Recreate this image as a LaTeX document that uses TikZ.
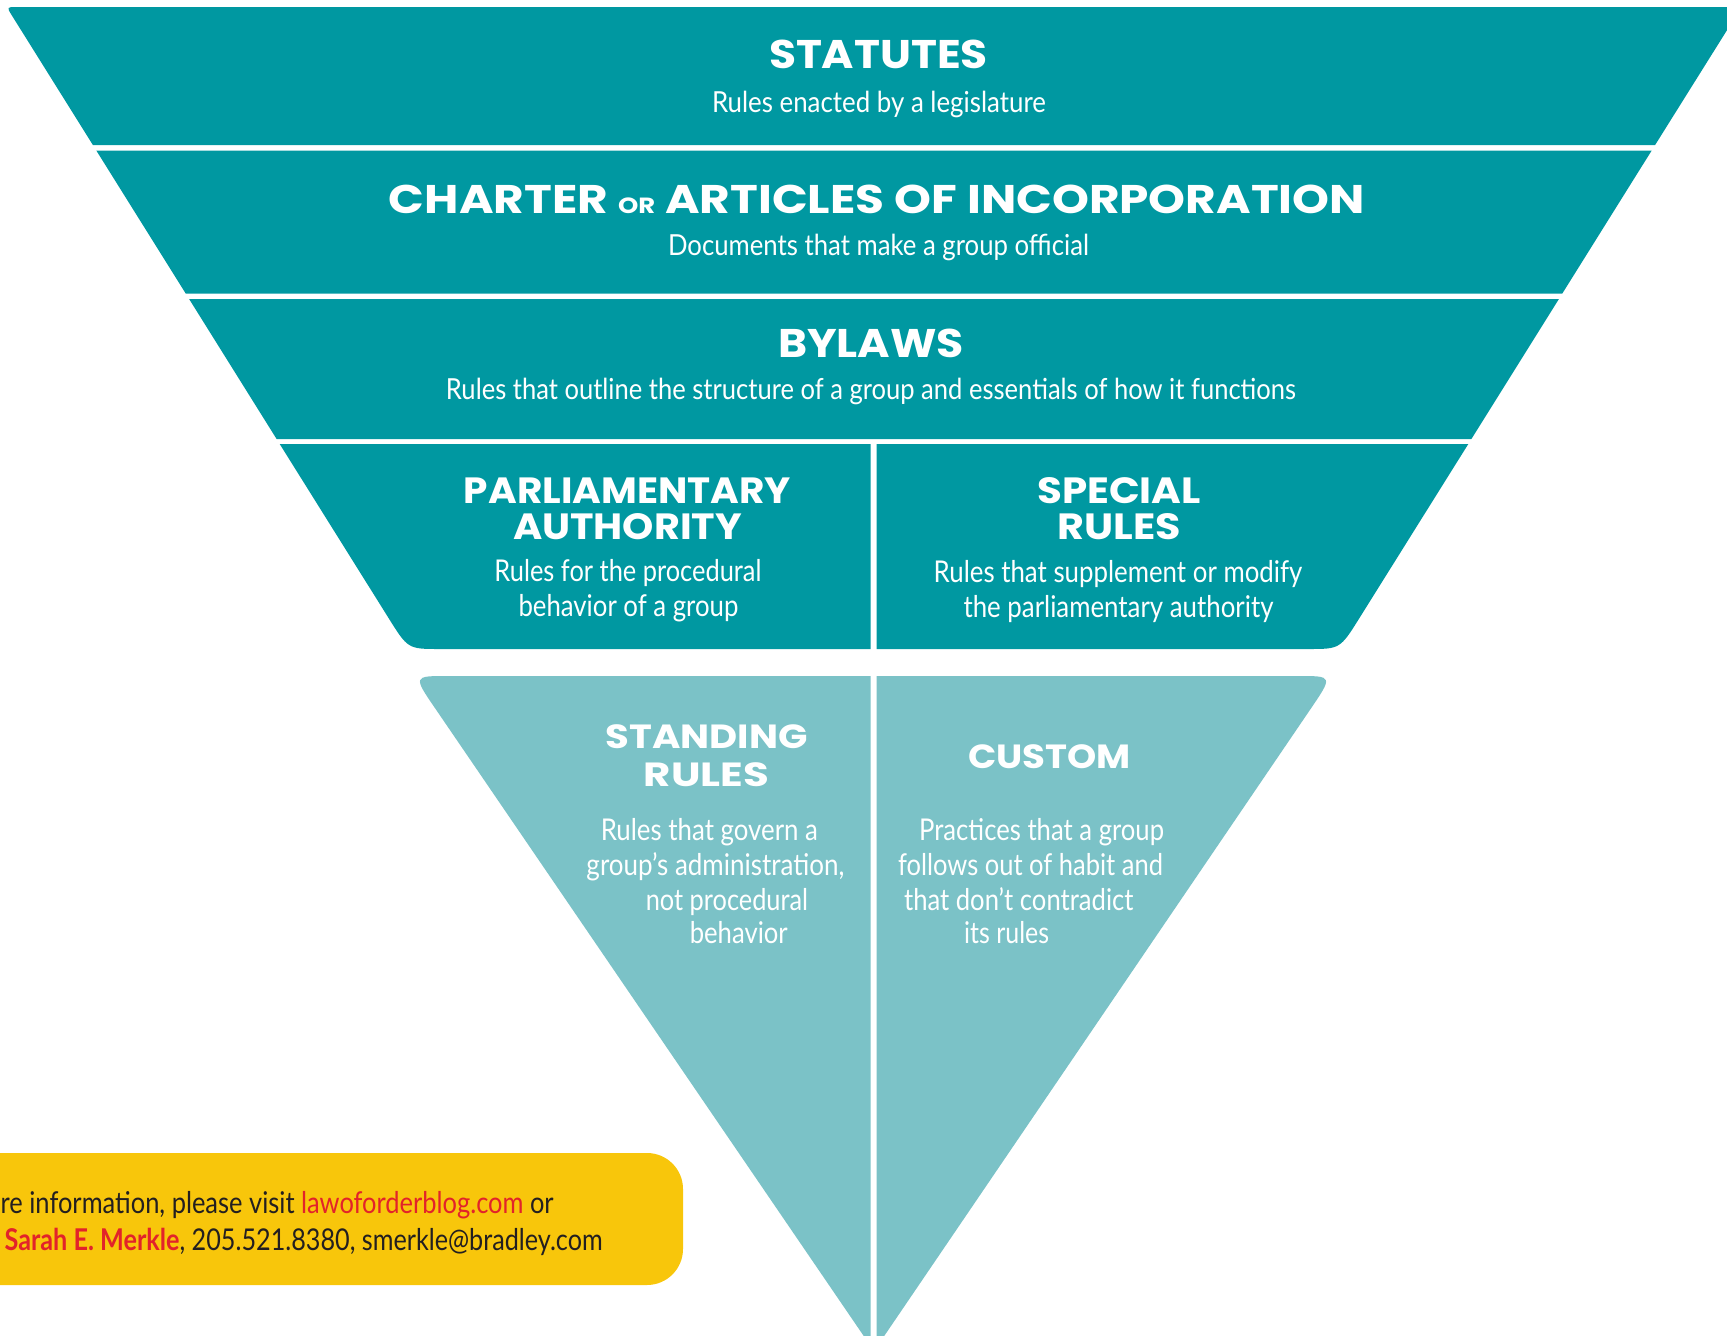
\documentclass[tikz,border=0pt]{standalone}
\usepackage{fontspec}
\usepackage{graphicx}
\newfontfamily\headfont{Poppins}
\newfontfamily\bodyfont{Lato}
\definecolor{tealdark}{HTML}{0098A1}
\definecolor{teallight}{HTML}{7BC2C7}
\definecolor{infoyellow}{HTML}{F8C60B}
\definecolor{linkred}{HTML}{E2232A}
\definecolor{txtdark}{HTML}{231F20}
\newcommand{\fitw}[2]{\resizebox{#1pt}{\height}{#2}}
\begin{document}
\begin{tikzpicture}[x=1pt,y=-1pt,
  headA/.style={anchor=base,inner sep=0pt,text=white,font=\headfont\bfseries\fontsize{40}{40}\selectfont},
  headB/.style={anchor=base,inner sep=0pt,text=white,font=\headfont\bfseries\fontsize{36.5}{36.5}\selectfont},
  headC/.style={anchor=base,inner sep=0pt,text=white,font=\headfont\bfseries\fontsize{33.5}{33.5}\selectfont},
  subA/.style={anchor=base,inner sep=0pt,text=white,font=\bodyfont\fontsize{29}{29}\selectfont},
  subB/.style={anchor=base,inner sep=0pt,text=white,font=\bodyfont\fontsize{30}{30}\selectfont},
  info/.style={anchor=base west,inner sep=0pt,text=txtdark,font=\bodyfont\fontsize{30}{30}\selectfont}]
\useasboundingbox (0,0) rectangle (1727,1336);
\clip (0,0) rectangle (1727,1336);

% band 1
\fill[tealdark] (1760,7) -- (16.6,7) .. controls (6.6,7) .. (11.9,15.5) -- (92.9,145) -- (1655.1,145) -- (1744,3) -- cycle;
% band 2
\fill[tealdark] (96.3,150.5) -- (185.7,293.5) -- (1562.3,293.5) -- (1651.7,150.5) -- cycle;
% band 3
\fill[tealdark] (189.1,299) -- (276.6,439) -- (1471.4,439) -- (1558.9,299) -- cycle;
% band 4 halves
\fill[tealdark] (279.7,444) -- (388.3,617.6) .. controls (407.9,649) .. (439.9,649) -- (870.7,649) -- (870.7,444) -- cycle;
\fill[tealdark] (876.7,444) -- (876.7,649) -- (1308.1,649) .. controls (1340.1,649) .. (1359.7,617.6) -- (1468.3,444) -- cycle;
% lower triangle halves
\fill[teallight] (435.6,709) .. controls (413,676) .. (448,676) -- (870.7,676) -- (870.7,1346.2) -- cycle;
\fill[teallight] (876.7,676) -- (1298,676) .. controls (1333,676) .. (1310.5,709.1) -- (876.7,1347) -- cycle;
% yellow box
\fill[infoyellow,rounded corners=36pt] (-60,1153) rectangle (683,1285);

% texts
\node[headA] (statutes) at (878.5,68.3) {\fitw{219}{STATUTES}};
\node[subA] (statutesd) at (879,112.7) {\fitw{334}{Rules enacted by a legislature}};

\node[headA] (charter) at (877,213.3) {\fitw{976}{CHARTER {\fontsize{22}{22}\selectfont OR} ARTICLES OF INCORPORATION}};
\node[subA] (charterd) at (878.5,255.7) {\fitw{421}{Documents that make a group official}};

\node[headA] (bylaws) at (871,357) {\fitw{186}{BYLAWS}};
\node[subA] (bylawsd) at (871,399) {\fitw{850}{Rules that outline the structure of a group and essentials of how it functions}};

\node[headB] (parl1) at (627.5,503) {\fitw{327}{PARLIAMENTARY}};
\node[headB] (parl2) at (627.5,539) {\fitw{229}{AUTHORITY}};
\node[subB] (parld1) at (628,581.7) {\fitw{267}{Rules for the procedural}};
\node[subB] (parld2) at (628.5,616.7) {\fitw{220}{behavior of a group}};

\node[headB] (spec1) at (1119,503) {\fitw{163.6}{SPECIAL}};
\node[headB] (spec2) at (1119,539) {\fitw{123.5}{RULES}};
\node[subB] (specd1) at (1118,582) {\fitw{368.6}{Rules that supplement or modify}};
\node[subB] (specd2) at (1118.5,617) {\fitw{310}{the parliamentary authority}};

\node[headC] (stand1) at (706.7,748.3) {\fitw{202}{STANDING}};
\node[headC] (stand2) at (706.4,786.7) {\fitw{125.3}{RULES}};
\node[subB] (standd1) at (709.4,840) {\fitw{217.2}{Rules that govern a}};
\node[subB] (standd2) at (715.5,875) {\fitw{258}{group’s administration,}};
\node[subB] (standd3) at (727,910) {\fitw{162.3}{not procedural}};
\node[subB] (standd4) at (738.8,943) {\fitw{98}{behavior}};

\node[headC] (custom) at (1049.3,768.3) {\fitw{162.6}{CUSTOM}};
\node[subB] (customd1) at (1041.6,840) {\fitw{245}{Practices that a group}};
\node[subB] (customd2) at (1030.5,875) {\fitw{265}{follows out of habit and}};
\node[subB] (customd3) at (1018.8,910) {\fitw{229.5}{that don’t contradict}};
\node[subB] (customd4) at (1006.6,943) {\fitw{85}{its rules}};

\node[info] (info1) at (0.5,1213) {\fitw{553}{re information, please visit \textcolor{linkred}{lawoforderblog.com} or}};
\node[info] (info2) at (4.5,1250) {\fitw{598}{\textcolor{linkred}{\bfseries Sarah E. Merkle}, 205.521.8380, smerkle@bradley.com}};
\end{tikzpicture}
\end{document}
